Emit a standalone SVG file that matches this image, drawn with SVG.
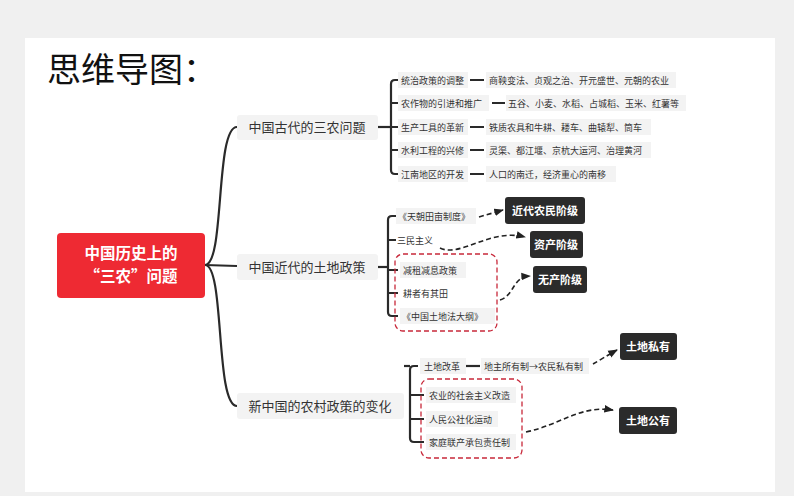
<svg xmlns="http://www.w3.org/2000/svg" width="794" height="496" viewBox="0 0 794 496">
<defs>
<marker id="ah" viewBox="0 0 10 10" refX="9" refY="5" markerWidth="6" markerHeight="6" orient="auto"><path d="M0,1 L10,5 L0,9 z" fill="#222"/></marker>
<style>
text{font-family:"Noto Sans CJK SC","Liberation Sans",sans-serif;}
.lb{fill:#f3f3f3;}
.t{font-size:9px;fill:#333;}
.m{font-size:13px;fill:#333;}
.br{fill:none;stroke:#2a2a2a;stroke-width:2.2;}
.ln{stroke:#2a2a2a;stroke-width:2.2;}
.da{fill:none;stroke:#222;stroke-width:1.6;stroke-dasharray:5,3;marker-end:url(#ah);}
.rd{fill:none;stroke:#c8283a;stroke-width:1.3;stroke-dasharray:5,3;}
.bk{fill:#2b2b2b;}
.bt{font-size:11px;fill:#fff;font-weight:bold;}
</style>
</defs>
<rect width="794" height="496" fill="#f0f0f0"/>
<rect x="25" y="38" width="750" height="454" fill="#fff"/>
<text x="47" y="82" font-size="34" fill="#111" style="font-family:'Noto Sans CJK SC',sans-serif">思维导图：</text>
<g id="connectors">
<path class="br" d="M205,265 C225,265 215,127 237,127"/>
<path class="br" d="M205,265 L237,266"/>
<path class="br" d="M205,265 C225,265 215,406 237,406"/>
<path class="ln" d="M378,127 H390"/>
<path class="br" d="M398,80 H395 Q391,80 391,84 V170 Q391,174 395,174 H398 M391,103 H398 M391,127 H398 M391,150 H398"/>
<path class="ln" d="M470,80 H484 M492,103 H505 M470,127 H484 M470,150 H484 M470,174 H484"/>
<path class="ln" d="M378,267 H388"/>
<path class="br" d="M396,216 H392 Q388,216 388,220 V312 Q388,316 392,316 H398 M388,240 H396 M388,270 H398 M388,293 H398"/>
<path class="ln" d="M404,366 H410"/>
<path class="br" d="M418,366 H414 Q410,366 410,370 V438 Q410,442 414,442 H424 M410,395 H424 M410,419 H424"/>
<path class="ln" d="M466,366 H480"/>
<path class="da" d="M479,217 L503,210"/>
<path class="da" d="M440,248 C460,258 490,228 525,237"/>
<path class="da" d="M500,300 C515,295 512,277 530,276"/>
<path class="da" d="M593,364 C600,360 608,355 617,350"/>
<path class="da" d="M526,432 C560,425 580,405 613,410"/>
<rect class="rd" x="395" y="254" width="102" height="77" rx="8"/>
<rect class="rd" x="421" y="379" width="101" height="79" rx="8"/>
</g>
<g id="root"><rect x="57" y="233" width="148" height="65" rx="4" fill="#ee2a33"/>
<text x="131" y="259" font-size="15.5" font-weight="bold" fill="#fff" text-anchor="middle">中国历史上的</text>
<text x="131" y="282" font-size="15.5" font-weight="bold" fill="#fff" text-anchor="middle">“三农”问题</text></g>
<g id="b1"><rect class="lb" x="237" y="115" width="141" height="25" rx="3"/><text class="m" x="307" y="132" text-anchor="middle">中国古代的三农问题</text></g>
<g id="b2"><rect class="lb" x="237" y="254" width="141" height="26" rx="3"/><text class="m" x="307" y="272" text-anchor="middle">中国近代的土地政策</text></g>
<g id="b3"><rect class="lb" x="237" y="393" width="167" height="26" rx="3"/><text class="m" x="320" y="411" text-anchor="middle">新中国的农村政策的变化</text></g>
<g id="a1"><rect class="lb" x="398" y="72" width="70" height="16"/><text class="t" x="401" y="84">统治政策的调整</text>
<rect class="lb" x="486" y="72" width="190" height="16"/><text class="t" x="489" y="84">商鞅变法、贞观之治、开元盛世、元朝的农业</text></g>
<g id="a2"><rect class="lb" x="398" y="95" width="91" height="16"/><text class="t" x="401" y="107">农作物的引进和推广</text>
<rect class="lb" x="506" y="95" width="180" height="16"/><text class="t" x="508" y="107">五谷、小麦、水稻、占城稻、玉米、红薯等</text></g>
<g id="a3"><rect class="lb" x="398" y="119" width="70" height="16"/><text class="t" x="401" y="131">生产工具的革新</text>
<rect class="lb" x="486" y="119" width="165" height="16"/><text class="t" x="489" y="131">铁质农具和牛耕、耧车、曲辕犁、筒车</text></g>
<g id="a4"><rect class="lb" x="398" y="142" width="70" height="16"/><text class="t" x="401" y="154">水利工程的兴修</text>
<rect class="lb" x="486" y="142" width="165" height="16"/><text class="t" x="489" y="154">灵渠、都江堰、京杭大运河、治理黄河</text></g>
<g id="a5"><rect class="lb" x="398" y="166" width="70" height="16"/><text class="t" x="401" y="178">江南地区的开发</text>
<rect class="lb" x="486" y="166" width="130" height="16"/><text class="t" x="489" y="178">人口的南迁，经济重心的南移</text></g>
<g id="m1"><rect class="lb" x="396" y="208" width="80" height="16"/><text class="t" x="398" y="220">《天朝田亩制度》</text></g>
<g id="m2"><text class="t" x="397" y="244">三民主义</text></g>
<g id="m3"><rect class="lb" x="400" y="262" width="66" height="16"/><text class="t" x="403" y="274">减租减息政策</text></g>
<g id="m4"><text class="t" x="403" y="297">耕者有其田</text></g>
<g id="m5"><rect class="lb" x="400" y="308" width="95" height="16"/><text class="t" x="402" y="320">《中国土地法大纲》</text></g>
<g id="k1"><rect class="bk" x="505" y="197" width="80" height="27" rx="3"/><text class="bt" x="545" y="215" text-anchor="middle">近代农民阶级</text></g>
<g id="k2"><rect class="bk" x="530" y="231" width="53" height="27" rx="3"/><text class="bt" x="556" y="249" text-anchor="middle">资产阶级</text></g>
<g id="k3"><rect class="bk" x="533" y="266" width="54" height="27" rx="3"/><text class="bt" x="560" y="284" text-anchor="middle">无产阶级</text></g>
<g id="n1"><rect class="lb" x="420" y="358" width="46" height="16"/><text class="t" x="424" y="370">土地改革</text>
<rect class="lb" x="481" y="358" width="108" height="16"/><text class="t" x="484" y="370">地主所有制→农民私有制</text></g>
<g id="n2"><rect class="lb" x="426" y="387" width="90" height="16"/><text class="t" x="429" y="399">农业的社会主义改造</text></g>
<g id="n3"><rect class="lb" x="426" y="411" width="72" height="16"/><text class="t" x="429" y="423">人民公社化运动</text></g>
<g id="n4"><rect class="lb" x="426" y="434" width="90" height="16"/><text class="t" x="429" y="446">家庭联产承包责任制</text></g>
<g id="k4"><rect class="bk" x="620" y="333" width="57" height="27" rx="3"/><text class="bt" x="648" y="351" text-anchor="middle">土地私有</text></g>
<g id="k5"><rect class="bk" x="619" y="407" width="58" height="27" rx="3"/><text class="bt" x="648" y="425" text-anchor="middle">土地公有</text></g>
</svg>
